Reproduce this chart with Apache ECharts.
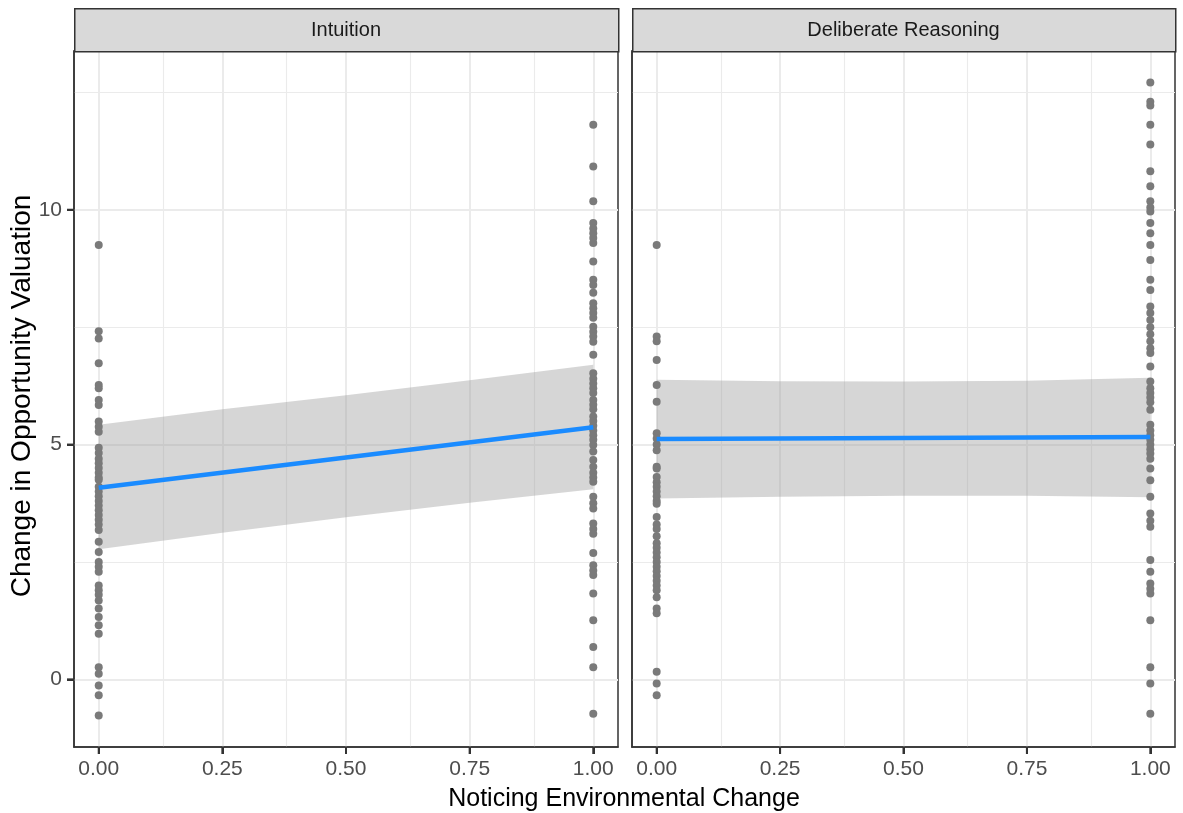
<!DOCTYPE html>
<html>
<head>
<meta charset="utf-8">
<script src="https://cdn.jsdelivr.net/npm/echarts@6/dist/echarts.min.js"></script>
<style>
  html, body { margin: 0; padding: 0; background: #fff; }
  #chart { width: 1183px; height: 813px; }
</style>
</head>
<body>
<div id="chart"></div>
<script>
var panels = ['Intuition', 'Deliberate Reasoning'];

// raw points, x = 0 (did not notice) and x = 1 (noticed)
var intuition0 = [9.25, 7.41, 7.26, 6.73, 6.27, 6.2, 5.95, 5.84, 5.49, 5.38, 5.27, 4.93, 4.82, 4.7, 4.6, 4.5, 4.4, 4.3, 4.25, 4.1, 4.0, 3.9, 3.8, 3.7, 3.6, 3.5, 3.4, 3.3, 3.18, 2.93, 2.71, 2.5, 2.4, 2.29, 2.0, 1.9, 1.8, 1.68, 1.51, 1.33, 1.15, 0.97, 0.26, 0.12, -0.13, -0.34, -0.77];
var intuition1 = [11.81, 10.92, 10.18, 9.72, 9.6, 9.5, 9.4, 9.29, 8.9, 8.51, 8.4, 8.23, 8.01, 7.9, 7.8, 7.7, 7.51, 7.4, 7.3, 7.19, 6.91, 6.52, 6.4, 6.3, 6.2, 6.1, 5.95, 5.85, 5.75, 5.6, 5.5, 5.4, 5.3, 5.2, 5.1, 4.99, 4.85, 4.67, 4.53, 4.4, 4.3, 4.21, 3.89, 3.75, 3.64, 3.32, 3.2, 3.1, 2.69, 2.43, 2.32, 2.22, 1.83, 1.26, 0.69, 0.26, -0.73];
var deliberate0 = [9.25, 7.3, 7.2, 6.8, 6.27, 5.91, 5.24, 5.13, 5.0, 4.88, 4.53, 4.49, 4.31, 4.2, 4.1, 4.0, 3.9, 3.8, 3.74, 3.46, 3.3, 3.2, 3.05, 2.9, 2.8, 2.7, 2.6, 2.5, 2.4, 2.3, 2.2, 2.1, 2.0, 1.9, 1.75, 1.51, 1.41, 0.16, -0.09, -0.34];
var deliberate1 = [12.71, 12.3, 12.22, 11.81, 11.39, 10.82, 10.5, 10.18, 10.05, 9.96, 9.72, 9.5, 9.25, 8.93, 8.51, 8.29, 7.94, 7.8, 7.65, 7.5, 7.35, 7.2, 7.05, 6.95, 6.66, 6.34, 6.2, 6.1, 6.0, 5.9, 5.74, 5.42, 5.3, 5.2, 5.1, 5.0, 4.9, 4.81, 4.7, 4.49, 4.24, 3.89, 3.53, 3.38, 3.25, 2.54, 2.29, 2.04, 1.93, 1.83, 1.26, 0.26, -0.09, -0.73];

// lm fit and its confidence band
var fitX = [0, 1];
var intuitionFit = [4.08, 5.37];
var deliberateFit = [5.12, 5.16];
var bandX = [0, 0.25, 0.5, 0.75, 1];
var intuitionLow = [2.77, 3.12, 3.45, 3.76, 4.05];
var intuitionHigh = [5.42, 5.75, 6.05, 6.37, 6.7];
var deliberateLow = [3.85, 3.89, 3.91, 3.91, 3.88];
var deliberateHigh = [6.38, 6.35, 6.34, 6.36, 6.42];

var xTicks = [0, 0.25, 0.5, 0.75, 1];
var xMinor = [0.125, 0.375, 0.625, 0.875];
var yTicks = [0, 5, 10];
var yMinor = [2.5, 7.5, 12.5];

var xMin = -0.05, xMax = 1.05, yMin = -1.44, yMax = 13.38;

var myChart = echarts.init(document.getElementById('chart'));

function pts(xv, ys) {
	return ys.map(function (y) { return [xv, y]; });
}

var font = 'Liberation Sans, Arial, sans-serif';
var gridsPos = [{ left: 74, width: 544 }, { left: 632, width: 543 }];

var groups = [
	{ p0: intuition0, p1: intuition1, fit: intuitionFit, low: intuitionLow, high: intuitionHigh },
	{ p0: deliberate0, p1: deliberate1, fit: deliberateFit, low: deliberateLow, high: deliberateHigh }
];

var series = [];
groups.forEach(function (g, i) {
	// grid lines
	var lines = [];
	xMinor.forEach(function (v) { lines.push({ xAxis: v, lineStyle: { width: 1.1 } }); });
	yMinor.forEach(function (v) { lines.push({ yAxis: v, lineStyle: { width: 1.1 } }); });
	xTicks.forEach(function (v) { lines.push({ xAxis: v, lineStyle: { width: 2 } }); });
	yTicks.forEach(function (v) { lines.push({ yAxis: v, lineStyle: { width: 2 } }); });
	series.push({
		type: 'line', xAxisIndex: i, yAxisIndex: i, data: [], z: 0, silent: true,
		markLine: {
			z: 0,
			silent: true, symbol: ['none', 'none'], label: { show: false },
			lineStyle: { color: '#ebebeb', type: 'solid' },
			animation: false,
			data: lines
		}
	});
	// confidence band
	var band = bandX.map(function (x, k) { return [x, g.low[k], g.high[k]]; });
	series.push({
		type: 'custom', xAxisIndex: i, yAxisIndex: i, z: 1, silent: true,
		data: band,
		renderItem: function (params, api) {
			if (params.dataIndex !== 0) return;
			var top = band.map(function (d) { return api.coord([d[0], d[2]]); });
			var bot = band.map(function (d) { return api.coord([d[0], d[1]]); }).reverse();
			return {
				type: 'polygon',
				shape: { points: top.concat(bot) },
				style: { fill: 'rgba(153,153,153,0.4)' }
			};
		}
	});
	series.push({
		type: 'scatter', xAxisIndex: i, yAxisIndex: i, z: 2,
		symbolSize: 8,
		itemStyle: { color: '#7a7a7a', opacity: 1 },
		data: pts(0, g.p0).concat(pts(1, g.p1))
	});
	series.push({
		type: 'line', xAxisIndex: i, yAxisIndex: i, z: 3,
		showSymbol: false, symbol: 'none',
		lineStyle: { color: '#1a8bff', width: 4.5 },
		data: fitX.map(function (x, k) { return [x, g.fit[k]]; })
	});
});

myChart.setOption({
	backgroundColor: '#fff',
	animation: false,
	grid: gridsPos.map(function (p) {
		return { left: p.left, width: p.width, top: 51, bottom: 66, show: true, borderColor: '#333', borderWidth: 1.5, backgroundColor: '#fff' };
	}),
	xAxis: [0, 1].map(function (i) {
		return {
			type: 'value', gridIndex: i, min: xMin, max: xMax, position: 'bottom',
			axisLine: { show: true, onZero: false, lineStyle: { color: '#333', width: 1.5 } },
			splitLine: { show: false },
			axisTick: { show: true, inside: false, customValues: xTicks, length: 7, lineStyle: { color: '#333', width: 2 } },
			axisLabel: {
				customValues: xTicks, color: '#4d4d4d', fontSize: 21, fontFamily: font, margin: 12,
				formatter: function (v) { return v.toFixed(2); }
			}
		};
	}),
	yAxis: [0, 1].map(function (i) {
		return {
			type: 'value', gridIndex: i, min: yMin, max: yMax, position: 'left',
			axisLine: { show: true, onZero: false, lineStyle: { color: '#333', width: 1.5 } },
			splitLine: { show: false },
			axisTick: { show: i === 0, inside: false, customValues: yTicks, length: 7, lineStyle: { color: '#333', width: 2 } },
			axisLabel: { show: i === 0, customValues: yTicks, color: '#4d4d4d', fontSize: 21, fontFamily: font, margin: 12 }
		};
	}),
	series: series
});

// strips, titles and outward tick marks (positioned through the axes' scales)
var graphics = [];
panels.forEach(function (name, i) {
	graphics.push({
		type: 'rect', left: gridsPos[i].left, top: 8, z: 10,
		shape: { width: gridsPos[i].width, height: 43 },
		style: { fill: '#d9d9d9', stroke: '#333', lineWidth: 1.5 }
	});
	graphics.push({
		type: 'text', z: 11,
		x: gridsPos[i].left + gridsPos[i].width / 2, y: 30,
		style: { text: name, fill: '#1a1a1a', font: '20px ' + font, textAlign: 'center', textVerticalAlign: 'middle' }
	});
	xTicks.forEach(function (v) {
		var p = myChart.convertToPixel({ gridIndex: i }, [v, yMin]);
		graphics.push({
			type: 'rect', z: 12, silent: true,
			shape: { x: p[0] - 1, y: p[1], width: 2, height: 7 },
			style: { fill: '#333' }
		});
	});
});
yTicks.forEach(function (v) {
	var p = myChart.convertToPixel({ gridIndex: 0 }, [xMin, v]);
	graphics.push({
		type: 'rect', z: 12, silent: true,
		shape: { x: p[0] - 7, y: p[1] - 1, width: 7, height: 2 },
		style: { fill: '#333' }
	});
});
graphics.push({
	type: 'text', x: 624, y: 799,
	style: { text: 'Noticing Environmental Change', fill: '#000', font: '25px ' + font, textAlign: 'center', textVerticalAlign: 'middle' }
});
graphics.push({
	type: 'text', x: 22, y: 396, rotation: Math.PI / 2,
	style: { text: 'Change in Opportunity Valuation', fill: '#000', font: '28px ' + font, textAlign: 'center', textVerticalAlign: 'middle' }
});

myChart.setOption({ graphic: graphics });
</script>
</body>
</html>
